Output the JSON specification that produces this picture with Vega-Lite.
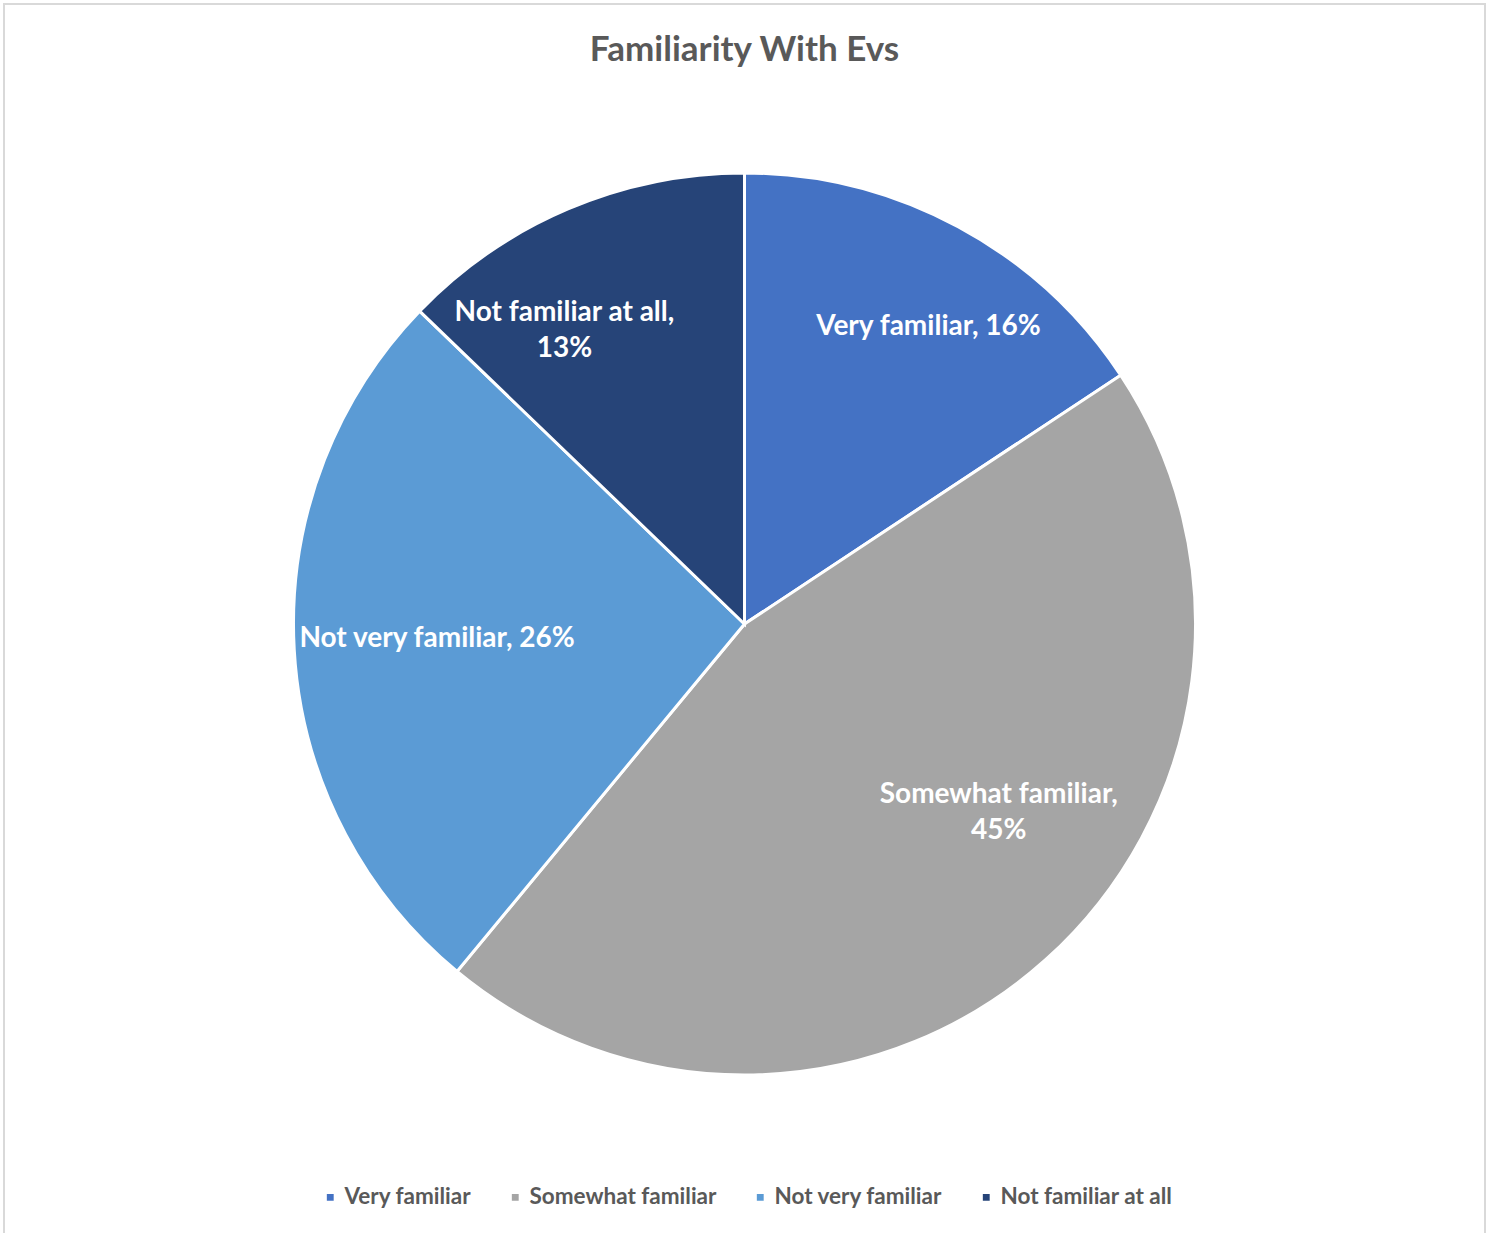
{
  "$schema": "https://vega.github.io/schema/vega-lite/v6.json",
  "autosize": {"type": "none"},
  "padding": {"left": 4, "top": 4, "right": 7, "bottom": 0},
  "width": 1481,
  "height": 1240,
  "background": "white",
  "view": {"stroke": "#d9d9d9", "strokeWidth": 2, "fill": "white"},
  "config": {"font": "Lato"},
  "title": {"text": "Familiarity With Evs", "fontSize": 35, "font": "Lato", "fontWeight": "bold", "color": "#595959", "offset": -64, "anchor": "middle"},
  "data": {"values": [
    {"category": "Very familiar", "pct": 15.7, "idx": 1, "label": "Very familiar, 16%"},
    {"category": "Somewhat familiar", "pct": 45.3, "idx": 2, "label": "Somewhat familiar,\n45%"},
    {"category": "Not very familiar", "pct": 26.2, "idx": 3, "label": "Not very familiar, 26%"},
    {"category": "Not familiar at all", "pct": 12.8, "idx": 4, "label": "Not familiar at all,\n13%"}
  ]},
  "encoding": {
    "theta": {"field": "pct", "type": "quantitative", "stack": true},
    "order": {"field": "idx", "type": "quantitative"}
  },
  "layer": [
    {
      "mark": {"type": "arc", "outerRadius": 451, "stroke": "white", "strokeWidth": 3},
      "encoding": {
        "color": {
          "field": "category", "type": "nominal",
          "scale": {"domain": ["Very familiar", "Somewhat familiar", "Not very familiar", "Not familiar at all"], "range": ["#4472C4", "#A5A5A5", "#5B9BD5", "#264478"]},
          "legend": {"orient": "none", "legendX": 315, "legendY": 1182, "direction": "horizontal", "title": null, "symbolType": "square", "symbolSize": 70, "labelFontSize": 22.5, "labelFont": "Lato", "labelFontWeight": "bold", "labelColor": "#595959", "columnPadding": 32, "labelOffset": 3, "labelLimit": 400}
        }
      }
    },
    {
      "mark": {"type": "text", "radius": 340, "dx": 23, "dy": 2, "fill": "white", "fontSize": 28, "fontWeight": "bold", "font": "Lato", "lineBreak": "\n", "lineHeight": 36},
      "encoding": {"text": {"condition": {"test": "datum.category == 'Very familiar'", "field": "label"}, "value": ""}}
    },
    {
      "mark": {"type": "text", "radius": 340, "dx": 27, "dy": -82, "fill": "white", "fontSize": 28, "fontWeight": "bold", "font": "Lato", "lineBreak": "\n", "lineHeight": 36},
      "encoding": {"text": {"condition": {"test": "datum.category == 'Somewhat familiar'", "field": "label"}, "value": ""}}
    },
    {
      "mark": {"type": "text", "radius": 340, "dx": 32, "dy": -4, "fill": "white", "fontSize": 28, "fontWeight": "bold", "font": "Lato", "lineBreak": "\n", "lineHeight": 36},
      "encoding": {"text": {"condition": {"test": "datum.category == 'Not very familiar'", "field": "label"}, "value": ""}}
    },
    {
      "mark": {"type": "text", "radius": 340, "dx": -47, "dy": 2, "fill": "white", "fontSize": 28, "fontWeight": "bold", "font": "Lato", "lineBreak": "\n", "lineHeight": 36},
      "encoding": {"text": {"condition": {"test": "datum.category == 'Not familiar at all'", "field": "label"}, "value": ""}}
    }
  ]
}
